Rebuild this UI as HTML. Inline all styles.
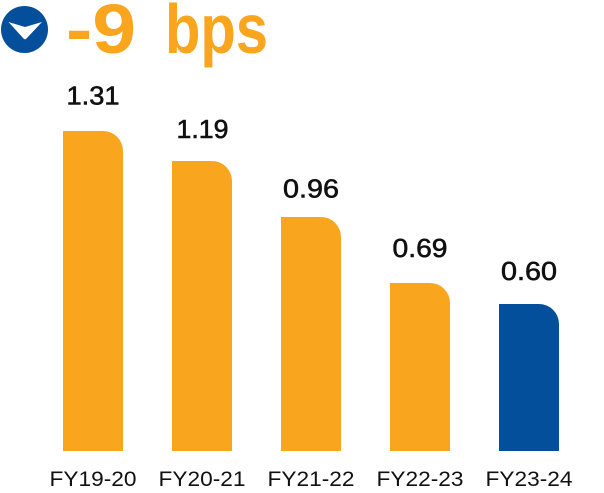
<!DOCTYPE html>
<html>
<head>
<meta charset="utf-8">
<style>
  html, body { margin: 0; padding: 0; background: #ffffff; }
  body { width: 604px; height: 493px; overflow: hidden; }
  svg { display: block; }
  .val { font-family: "Liberation Sans", sans-serif; font-size: 26px; fill: #111; stroke: #111; stroke-width: 0.6px; }
  .cat { font-family: "Liberation Sans", sans-serif; font-size: 21px; fill: #111; }
  .hdr { font-family: "Liberation Sans", sans-serif; font-weight: bold; font-size: 70px; fill: #F9A61E; }
</style>
</head>
<body>
<svg width="604" height="493" viewBox="0 0 604 493" xmlns="http://www.w3.org/2000/svg">
  <!-- header icon -->
  <circle cx="24.5" cy="29.5" r="23.5" fill="#034F9B"/>
  <path d="M8.5,22 L25,27 L42,22 L26.5,38.5 Q25,40 23.5,38.5 Z" fill="#ffffff"/>
  <!-- header text -->
  <text class="hdr" x="66" y="53" textLength="70" lengthAdjust="spacingAndGlyphs">-9</text>
  <text class="hdr" x="165" y="53" textLength="103" lengthAdjust="spacingAndGlyphs">bps</text>

  <!-- bars (bottom 451, top-right corner rounded) -->
  <path d="M63,451 V131 H103 A20,20 0 0 1 123,151 V451 Z" fill="#F9A61E"/>
  <path d="M172,451 V161 H212 A20,20 0 0 1 232,181 V451 Z" fill="#F9A61E"/>
  <path d="M281,451 V217 H321 A20,20 0 0 1 341,237 V451 Z" fill="#F9A61E"/>
  <path d="M390,451 V283 H430 A20,20 0 0 1 450,303 V451 Z" fill="#F9A61E"/>
  <path d="M499,451 V304 H539 A20,20 0 0 1 559,324 V451 Z" fill="#034F9B"/>

  <!-- value labels -->
  <text class="val" x="93" y="104.5" text-anchor="middle" textLength="53" lengthAdjust="spacingAndGlyphs">1.31</text>
  <text class="val" x="202.5" y="138" text-anchor="middle" textLength="52" lengthAdjust="spacingAndGlyphs">1.19</text>
  <text class="val" x="311" y="197.5" text-anchor="middle" textLength="56" lengthAdjust="spacingAndGlyphs">0.96</text>
  <text class="val" x="420" y="257" text-anchor="middle" textLength="55" lengthAdjust="spacingAndGlyphs">0.69</text>
  <text class="val" x="529" y="280" text-anchor="middle" textLength="56" lengthAdjust="spacingAndGlyphs">0.60</text>

  <!-- category labels -->
  <text class="cat" x="93" y="486" text-anchor="middle" textLength="87" lengthAdjust="spacingAndGlyphs">FY19-20</text>
  <text class="cat" x="202" y="486" text-anchor="middle" textLength="87" lengthAdjust="spacingAndGlyphs">FY20-21</text>
  <text class="cat" x="311" y="486" text-anchor="middle" textLength="87" lengthAdjust="spacingAndGlyphs">FY21-22</text>
  <text class="cat" x="420" y="486" text-anchor="middle" textLength="87" lengthAdjust="spacingAndGlyphs">FY22-23</text>
  <text class="cat" x="529" y="486" text-anchor="middle" textLength="87" lengthAdjust="spacingAndGlyphs">FY23-24</text>
</svg>
</body>
</html>
